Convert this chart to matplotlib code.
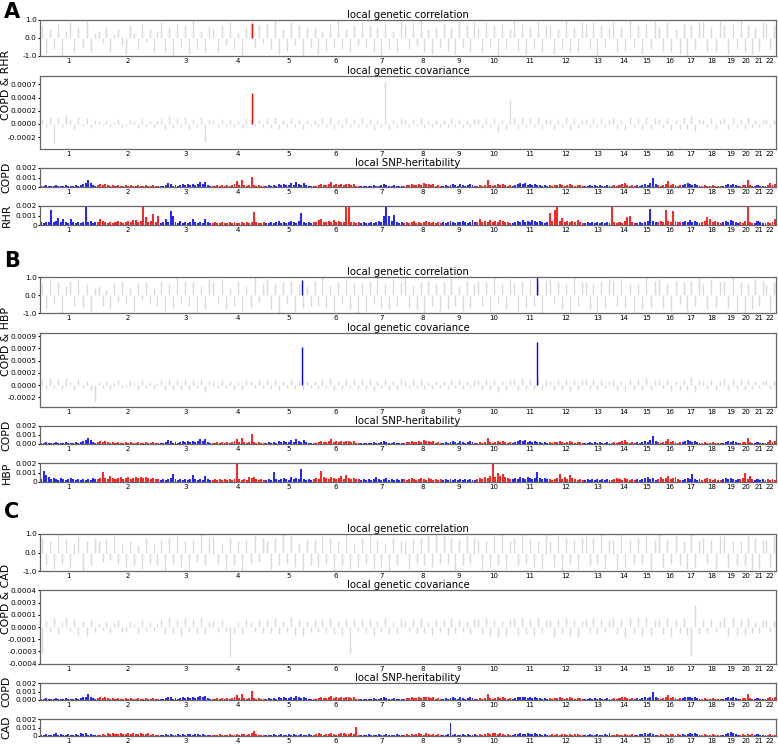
import numpy as np
import matplotlib
matplotlib.use('Agg')
from matplotlib import pyplot as plt

# Loci per chromosome (x axis is locus index, not base pairs)
chroms = list(range(1, 23))
loci_per_chrom = [131, 145, 120, 124, 110, 109, 100, 90, 79, 82, 85,
                  82, 62, 58, 49, 57, 44, 49, 40, 33, 25, 27]

# local SNP-heritability, units of 1e-4, one list per chromosome
h2_copd = [
    [1,1,2,1,1,1,2,1,1,1,2,1,1,1,2,1,2,3,4,7,4,2,1],
    [2,3,2,3,2,1,2,1,2,1,1,2,1,2,1,1,2,1,1,2,1,1,2,1,1],
    [1,1,2,4,3,1,2,1,2,3,2,3,2,3,2,3,5,3,5,2,1],
    [1,1,2,1,2,1,2,1,2,3,6,2,7,2,1,2,11,2,1,2,1,1],
    [1,2,1,2,1,3,2,3,2,2,4,2,5,3,2,4,2,1,1],
    [1,1,2,3,2,2,3,5,2,3,2,3,2,3,3,2,3,1,1],
    [1,1,1,1,1,2,1,1,2,3,2,1,1,2,1,1,1],
    [1,2,2,3,2,2,3,2,4,3,3,2,3,1,2,1],
    [1,2,1,2,3,2,1,3,2,1,2,3,2,1],
    [1,2,1,2,7,2,1,2,3,2,3,2,1,2],
    [1,2,3,4,3,4,2,3,2,3,2,2,1,2,1],
    [2,1,2,2,3,2,1,2,3,2,1,2,2,1],
    [1,1,2,1,2,1,2,1,1,2,1],
    [1,2,1,2,3,4,2,1,2,1],
    [2,1,2,3,2,4,9,3],
    [2,1,2,3,6,2,3,2,1,2],
    [2,3,4,3,2,3,2,1],
    [1,2,1,1,2,1,1,1],
    [1,2,3,2,3,2,1],
    [1,2,2,7,2,1],
    [1,2,1,1],
    [1,2,4,2,3],
]
h2_rhr = [
    [3,2,3,3,16,3,4,7,3,6,3,2,6,3,2,3,2,3,20,3,4,2,3],
    [3,6,4,3,2,3,2,3,4,3,2,3,4,3,5,5,3,4,20,8,3,4,12,3,9],
    [2,3,6,3,15,10,3,2,4,2,3,2,3,6,3,2,3,2,6,3,2],
    [2,3,2,2,3,2,2,3,2,3,2,2,3,2,3,2,3,14,3,2,2,3],
    [2,2,3,2,3,4,2,3,2,3,4,3,2,4,13,3,2,3,2],
    [3,3,5,6,3,3,4,3,5,3,4,3,3,21,21,3,3,2,3],
    [2,3,2,2,3,2,3,4,3,9,20,10,4,11,3,2,3],
    [2,3,2,3,4,2,3,2,3,4,3,2,3,2,3,2],
    [3,2,3,4,3,2,3,3,4,3,2,3,5,3],
    [3,6,3,4,3,5,3,4,3,5,4,3,3,2],
    [2,3,4,3,5,3,4,3,5,4,3,4,3,2,3],
    [13,4,16,19,4,7,3,4,3,4,3,5,3,2],
    [2,3,2,3,2,3,2,3,2,3,2],
    [20,3,2,3,2,4,8,9,3,2],
    [2,3,2,3,4,17,4,3],
    [3,4,3,16,4,3,15,4,3,3],
    [3,4,3,5,3,4,3,2],
    [3,4,8,6,3,4,3,2],
    [3,4,3,5,4,3,2],
    [3,2,4,20,3,2],
    [2,4,3,2],
    [2,3,2,3,6],
]
h2_hbp = [
    [3,12,7,5,3,4,3,2,4,3,2,3,4,3,2,3,2,3,2,3,2,4,3],
    [3,4,11,4,3,6,4,3,4,5,3,4,5,3,4,5,4,5,4,5,4,3,4,3,3],
    [2,3,2,3,4,8,3,2,3,2,3,2,3,7,3,2,3,2,6,3,2],
    [2,3,2,3,2,3,2,3,2,3,20,3,2,3,2,5,4,5,3,2,3,2],
    [2,3,2,11,3,2,3,4,3,2,5,3,4,3,14,3,2,3,2],
    [3,4,3,12,5,4,3,5,4,3,4,6,3,7,4,3,4,3,3],
    [2,3,2,3,2,3,5,3,2,3,4,2,3,2,3,2,3],
    [3,2,3,4,3,2,3,4,3,2,4,3,2,3,2,3],
    [2,3,2,3,2,3,2,3,2,3,2,3,2,2],
    [3,4,3,5,4,6,20,5,10,6,8,5,4,3],
    [3,4,3,5,4,3,5,4,3,4,11,4,3,4,3],
    [3,2,3,4,8,3,5,3,7,4,3,2,3,2],
    [2,3,2,3,2,3,2,3,2,3,2],
    [2,3,4,3,2,4,3,2,3,2],
    [3,2,3,4,5,3,4,2],
    [3,5,3,4,6,3,4,5,3,2],
    [2,3,4,3,8,3,2,3],
    [2,3,4,3,2,3,2,2],
    [3,4,3,4,3,2,3],
    [3,4,9,3,6,3],
    [2,3,2,3],
    [2,3,2,3,2],
]
h2_cad = [
    [1,1,2,1,1,2,3,1,2,1,1,2,1,1,2,1,3,2,3,1,2,1,1],
    [1,1,2,1,3,2,3,2,2,3,2,2,3,2,3,2,2,3,2,2,3,1,2,1,1],
    [1,1,2,1,2,1,1,2,1,2,1,2,2,1,2,2,1,2,1,1,1],
    [1,1,1,2,1,1,1,2,1,1,2,1,2,2,1,2,3,6,2,1,1,1],
    [1,1,1,2,1,1,2,1,1,2,1,2,1,1,2,1,1,2,1],
    [1,2,4,2,1,2,2,4,2,1,2,3,4,2,2,3,2,11,1],
    [1,1,1,2,1,1,1,2,1,1,2,1,1,1,2,1,1],
    [1,2,1,2,1,2,3,2,1,3,2,1,2,1,2,1],
    [1,1,2,15,1,2,1,1,2,1,2,1,1,2],
    [1,2,1,2,3,2,4,3,2,3,2,1,2,1],
    [1,2,2,3,2,2,3,2,2,3,2,2,1,2,1],
    [1,2,1,2,1,2,2,1,2,1,2,2,1,1],
    [1,1,2,1,1,2,1,1,2,1,4],
    [1,1,2,1,1,2,1,1,2,1],
    [1,2,2,3,2,3,2,1],
    [1,2,1,2,1,2,2,1,2,1],
    [2,1,2,3,2,3,2,1],
    [1,2,1,1,2,1,1,1],
    [1,2,3,5,4,2,1],
    [1,2,1,2,1,2],
    [1,2,1,1],
    [1,1,2,1,1],
]

# local genetic correlation of COPD with each trait, in tenths (grey loci)
rho_rhr = [
    [7,-9,5,-6,8,-10,4,9,-7,6,-5,10,-8,3], [4,-3,6,-8,2,5,-4,-9,7,3,-6,8,-2,5,-7,4],
    [9,-7,6,-10,8,-5,7,-9,10,-6,4,-8,6], [5,-8,7,-4,9,-6,3,-10,6,8,-5,7,-3],
    [8,-6,10,-9,5,-7,9,-4,7,-10,6,-5], [6,-9,4,-7,8,-5,10,-6,5,-8,7,-4],
    [9,-5,7,-8,6,-10,8,-6,4,-7,9], [7,-6,9,-4,10,-8,5,-9,6,-5],
    [8,-7,6,-9,10,-5,7,-8,9], [6,-8,9,-5,7,-10,8,-6,5], [10,-7,8,-9,6,-6,9,-8,7],
    [7,-9,5,-6,10,-8,6,-7,9], [8,-6,9,-10,7,-5,6], [9,-8,6,-7,10,-5],
    [7,-9,8,-6,10], [6,-7,9,-8,5,-9], [8,-10,7,-6,9], [9,-7,6,-8,10],
    [7,-9,8,-6], [10,-8,7,-9], [6,-7,9], [8,-6,7],
]
rho_hbp = [
    [6,-8,9,-5,7,-10,5,8,-6,9,-7,6,-9,4], [5,-6,3,-7,6,-4,8,-5,4,-9,6,-3,7,-5,4,-6],
    [8,-9,6,-7,10,-5,8,-6,7,-10,5,-8,9], [7,-5,9,-8,4,-6,8,-9,5,-7,10,-4,6],
    [9,-8,6,-10,7,-5,8,-9,6,-7,5,-6], [8,-6,10,-7,5,-9,7,-5,9,-8,6,-10],
    [6,-9,8,-5,10,-7,6,-8,9,-6,7], [9,-7,5,-8,7,-10,8,-6,6,-9],
    [7,-8,10,-6,5,-9,8,-7,6], [8,-6,7,-9,10,-5,6,-8,9], [6,-9,8,-7,9,-6,7,-10,8],
    [9,-5,7,-8,6,-9,10,-6,7], [7,-8,6,-9,8,-7,9], [8,-6,9,-7,6,-10],
    [6,-8,10,-7,8], [9,-7,6,-9,8,-5], [7,-9,8,-6,10], [6,-8,9,-7,7],
    [8,-7,10,-9], [7,-10,6,-8], [9,-6,8], [6,-9,7],
]
rho_cad = [
    [8,-7,6,-9,10,-6,7,-8,5,9,-10,6,-7,8], [6,-5,7,-4,9,-6,5,-8,6,-7,4,-9,8,-6,5,-7],
    [7,-10,8,-6,9,-8,6,-9,7,-5,10,-7,8], [9,-6,5,-9,8,-7,6,-10,7,-6,9,-5,8],
    [6,-9,8,-7,10,-6,9,-8,5,-10,7,-7], [7,-8,9,-6,8,-10,6,-7,10,-9,5,-8],
    [8,-6,10,-9,7,-8,5,-10,8,-7,6], [6,-9,7,-6,8,-7,9,-8,10,-6],
    [9,-6,8,-10,7,-7,9,-6,8], [7,-9,6,-8,9,-7,10,-9,6], [8,-7,10,-6,7,-8,6,-9,10],
    [6,-8,9,-10,8,-6,7,-9,8], [9,-7,8,-6,10,-9,7], [7,-9,10,-8,7,-6],
    [8,-6,9,-10,7], [10,-8,7,-6,9,-7], [6,-9,10,-8,7], [8,-6,7,-9,9],
    [9,-8,6,-7], [6,-7,9,-10], [8,-9,7], [7,-8,9],
]

# local genetic covariance, units of 1e-5 (grey loci)
cov_rhr = [
    [8,-6,12,-32,10,-5,15,7,-9,11,-4,9,-7,6], [5,-4,7,-6,3,8,-5,-3,6,4,-7,9,-4,5,-6,4],
    [10,-8,13,-7,9,-6,11,-9,8,-5,12,-30,7], [6,-5,8,-4,7,-6,5,-7,9,6,-4,8,-5],
    [9,-7,11,-8,6,-5,10,-6,8,-9,7,-4], [7,-6,9,-5,12,-8,6,-7,10,-5,8,-6],
    [9,-6,8,-10,7,-5,70,-8,6,-7,10], [6,-5,8,-4,9,-7,5,-6,7,-5],
    [7,-6,9,-5,8,-7,6,-5,8], [8,-7,10,-6,9,-12,7,-8,40], [9,-8,12,-7,10,-6,11,-9,8],
    [7,-9,8,-6,11,-10,9,-7,8], [8,-7,10,-6,9,-5,7], [9,-8,7,-10,11,-6],
    [10,-9,12,-8,9], [8,-7,9,-10,7,-8], [11,-9,14,-12,8], [7,-6,9,-8,6],
    [10,-8,9,-7], [8,-9,11,-6], [6,-5,7], [8,-6,7],
]
cov_hbp = [
    [9,-7,13,-6,11,-8,14,6,-10,12,-5,8,-9,-30], [6,-5,8,-7,4,9,-6,-4,7,5,-8,10,-5,6,-7,5],
    [9,-10,12,-8,10,-7,12,-8,9,-6,11,-12,8], [7,-6,9,-5,8,-7,6,-8,10,7,-5,9,-6],
    [10,-8,12,-9,7,-6,11,-7,9,-10,8,-5], [8,-7,10,-6,13,-9,7,-8,11,-6,9,-7],
    [10,-7,9,-11,8,-6,12,-9,7,-8,11], [7,-6,9,-5,10,-8,6,-7,8,-6],
    [8,-7,10,-6,9,-8,7,-6,9], [9,-8,11,-7,10,-13,8,-9,10], [10,-9,13,-8,11,-7,12,-10,9],
    [8,-10,9,-7,12,-11,10,-8,9], [9,-8,11,-7,10,-6,8], [10,-9,8,-11,12,-7],
    [11,-10,13,-9,10], [9,-8,10,-11,8,-9], [12,-10,15,-13,9], [8,-7,10,-9,7],
    [11,-9,10,-8], [9,-10,12,-7], [7,-6,8], [9,-7,8],
]
cov_cad = [
    [-30,7,-6,10,-8,6,12,-5,8,-9,7,-10,9,-6], [5,-4,6,-7,5,8,-6,-5,6,4,-7,8,-5,6,-4,5],
    [9,-8,11,-7,8,-9,10,-6,9,-7,12,-8,6], [7,-6,8,-5,-35,-7,6,-8,9,6,-6,8,-7],
    [9,-7,10,-8,7,-6,11,-9,8,-10,7,-6], [8,-6,9,-7,10,-8,7,-9,8,-30,9,-6],
    [9,-7,8,-10,7,-6,10,-8,6,-7,9], [7,-6,9,-8,10,-7,6,-9,8,-6],
    [8,-9,10,-7,9,-6,7,-8,9], [9,-8,10,-9,8,-12,7,-10,9], [10,-9,12,-8,9,-10,11,-7,8],
    [8,-12,9,-7,10,-9,8,-11,7], [9,-7,10,-8,9,-6,8], [10,-8,9,-11,10,-7],
    [11,-9,12,-10,8], [9,-8,10,-12,8,-7], [10,-9,-33,25,-8], [8,-7,9,-6,7],
    [12,-10,11,-9], [8,-9,10,-7], [6,-7,8], [8,-6,7],
]

# significant loci (coloured): chromosome, locus index within chromosome, rho, covariance
sig_rhr_chrom, sig_rhr_locus, sig_rhr_rho, sig_rhr_cov = [4], [93], [0.85], [0.00051]
sig_hbp_chrom, sig_hbp_locus, sig_hbp_rho, sig_hbp_cov = [5, 11], [85, 57], [0.83, 1.0], [0.00072, 0.00081]
sig_cad_chrom, sig_cad_locus, sig_cad_rho, sig_cad_cov = [], [], [], []

starts = np.concatenate([[0], np.cumsum(loci_per_chrom)[:-1]])
total = sum(loci_per_chrom)
centers = starts + np.array(loci_per_chrom) / 2.0


def chrom_color(c):
    return 'blue' if c % 2 == 1 else 'red'


def spread(per_chrom):
    # place each chromosome's values evenly over its loci
    xs, ys, ws, cs = [], [], [], []
    for i, vals in enumerate(per_chrom):
        m = len(vals)
        step = loci_per_chrom[i] / m
        xs.extend(starts[i] + (np.arange(m) + 0.5) * step)
        ys.extend(vals)
        ws.extend([step] * m)
        cs.extend([chrom_color(chroms[i])] * m)
    return np.array(xs), np.array(ys, dtype=float), np.array(ws), cs


fig = plt.figure(figsize=(7.78, 7.47), dpi=100)
W, H = 778.0, 747.0
GREY = '#d9d9d9'
TITLE_FS = 7.3


def add_ax(top, bottom):
    ax = fig.add_axes([40 / W, 1 - bottom / H, 736 / W, (bottom - top) / H])
    ax.set_xlim(0, total)
    ax.set_xticks(centers)
    ax.set_xticklabels([str(c) for c in chroms])
    ax.tick_params(axis='x', length=0, pad=1.5, labelsize=5)
    ax.tick_params(axis='y', length=1.5, pad=0.8, labelsize=5.3)
    for s in ax.spines.values():
        s.set_color('#666666')
        s.set_linewidth(0.9)
    return ax


def sig_x(chrom_list, locus_list):
    return [starts[c - 1] + l + 0.5 for c, l in zip(chrom_list, locus_list)]


panels = [
    ('A', 'RHR', rho_rhr, cov_rhr, h2_rhr,
     (sig_rhr_chrom, sig_rhr_locus, sig_rhr_rho, sig_rhr_cov),
     [20, 56, 76, 149, 168, 187, 206, 225], 12,
     [-0.00022, 0, 0.00022, 0.00044, 0.00066], (-0.00042, 0.0008)),
    ('B', 'HBP', rho_hbp, cov_hbp, h2_hbp,
     (sig_hbp_chrom, sig_hbp_locus, sig_hbp_rho, sig_hbp_cov),
     [277, 313, 333, 407, 426, 444, 463, 482], 261,
     [-0.00023, 0, 0.00023, 0.00046, 0.00069, 0.00092], (-0.00041, 0.00098)),
    ('C', 'CAD', rho_cad, cov_cad, h2_cad,
     (sig_cad_chrom, sig_cad_locus, sig_cad_rho, sig_cad_cov),
     [534, 571, 590, 664, 683, 700, 719, 736], 512,
     [-0.00042, -0.00028, -0.00014, 0, 0.00014, 0.00028, 0.00042], (-0.000425, 0.000425)),
]

for letter, trait, rho, cov, h2, sig, ys, letter_y, cov_ticks, cov_lim in panels:
    sc, sl, sr, sv = sig
    sx = sig_x(sc, sl)
    scol = [chrom_color(c) for c in sc]

    # local genetic correlation
    ax = add_ax(ys[0], ys[1])
    x, y, w, c = spread(rho)
    ax.vlines(x, 0, y / 10.0, color=GREY, lw=1.0)
    if sx:
        ax.vlines(sx, 0, sr, color=scol, lw=1.0)
    ax.set_ylim(-1, 1)
    ax.set_yticks([-1, 0, 1])
    ax.set_yticklabels(['-1.0', '0.0', '1.0'])
    ax.set_title('local genetic correlation', fontsize=TITLE_FS, pad=1.5)

    # local genetic covariance
    ax = add_ax(ys[2], ys[3])
    x, y, w, c = spread(cov)
    ax.vlines(x, 0, y * 1e-5, color=GREY, lw=1.0)
    if sx:
        ax.vlines(sx, 0, sv, color=scol, lw=1.0)
    ax.set_ylim(*cov_lim)
    ax.set_yticks(cov_ticks)
    ax.set_yticklabels(['%.4f' % t for t in cov_ticks])
    ax.set_title('local genetic covariance', fontsize=TITLE_FS, pad=1.5)

    # local SNP-heritability: COPD then trait
    for j, (vals, labs) in enumerate([(h2_copd, ['0.000', '0.001', '0.002']),
                                      (h2, ['0', '0.001', '0.002'])]):
        ax = add_ax(ys[4 + 2 * j], ys[5 + 2 * j])
        x, y, w, c = spread(vals)
        ax.bar(x, y * 1e-4, width=w * 0.8, color=c, linewidth=0, alpha=0.85)
        ax.set_ylim(0, 0.002)
        ax.set_yticks([0, 0.001, 0.002])
        ax.set_yticklabels(labs)
        if j == 0:
            ax.set_title('local SNP-heritability', fontsize=TITLE_FS, pad=1.5)

    fig.text(4 / W, 1 - letter_y / H, letter, fontsize=15, fontweight='bold', va='center')
    fig.text(6.5 / W, 1 - (ys[0] + ys[3]) / 2.0 / H, 'COPD & ' + trait,
             rotation=90, ha='center', va='center', fontsize=7.8)
    fig.text(6.5 / W, 1 - (ys[4] + ys[5]) / 2.0 / H, 'COPD',
             rotation=90, ha='center', va='center', fontsize=7.8)
    fig.text(6.5 / W, 1 - (ys[6] + ys[7]) / 2.0 / H, trait,
             rotation=90, ha='center', va='center', fontsize=7.8)

fig.savefig('out.png', dpi=100)
